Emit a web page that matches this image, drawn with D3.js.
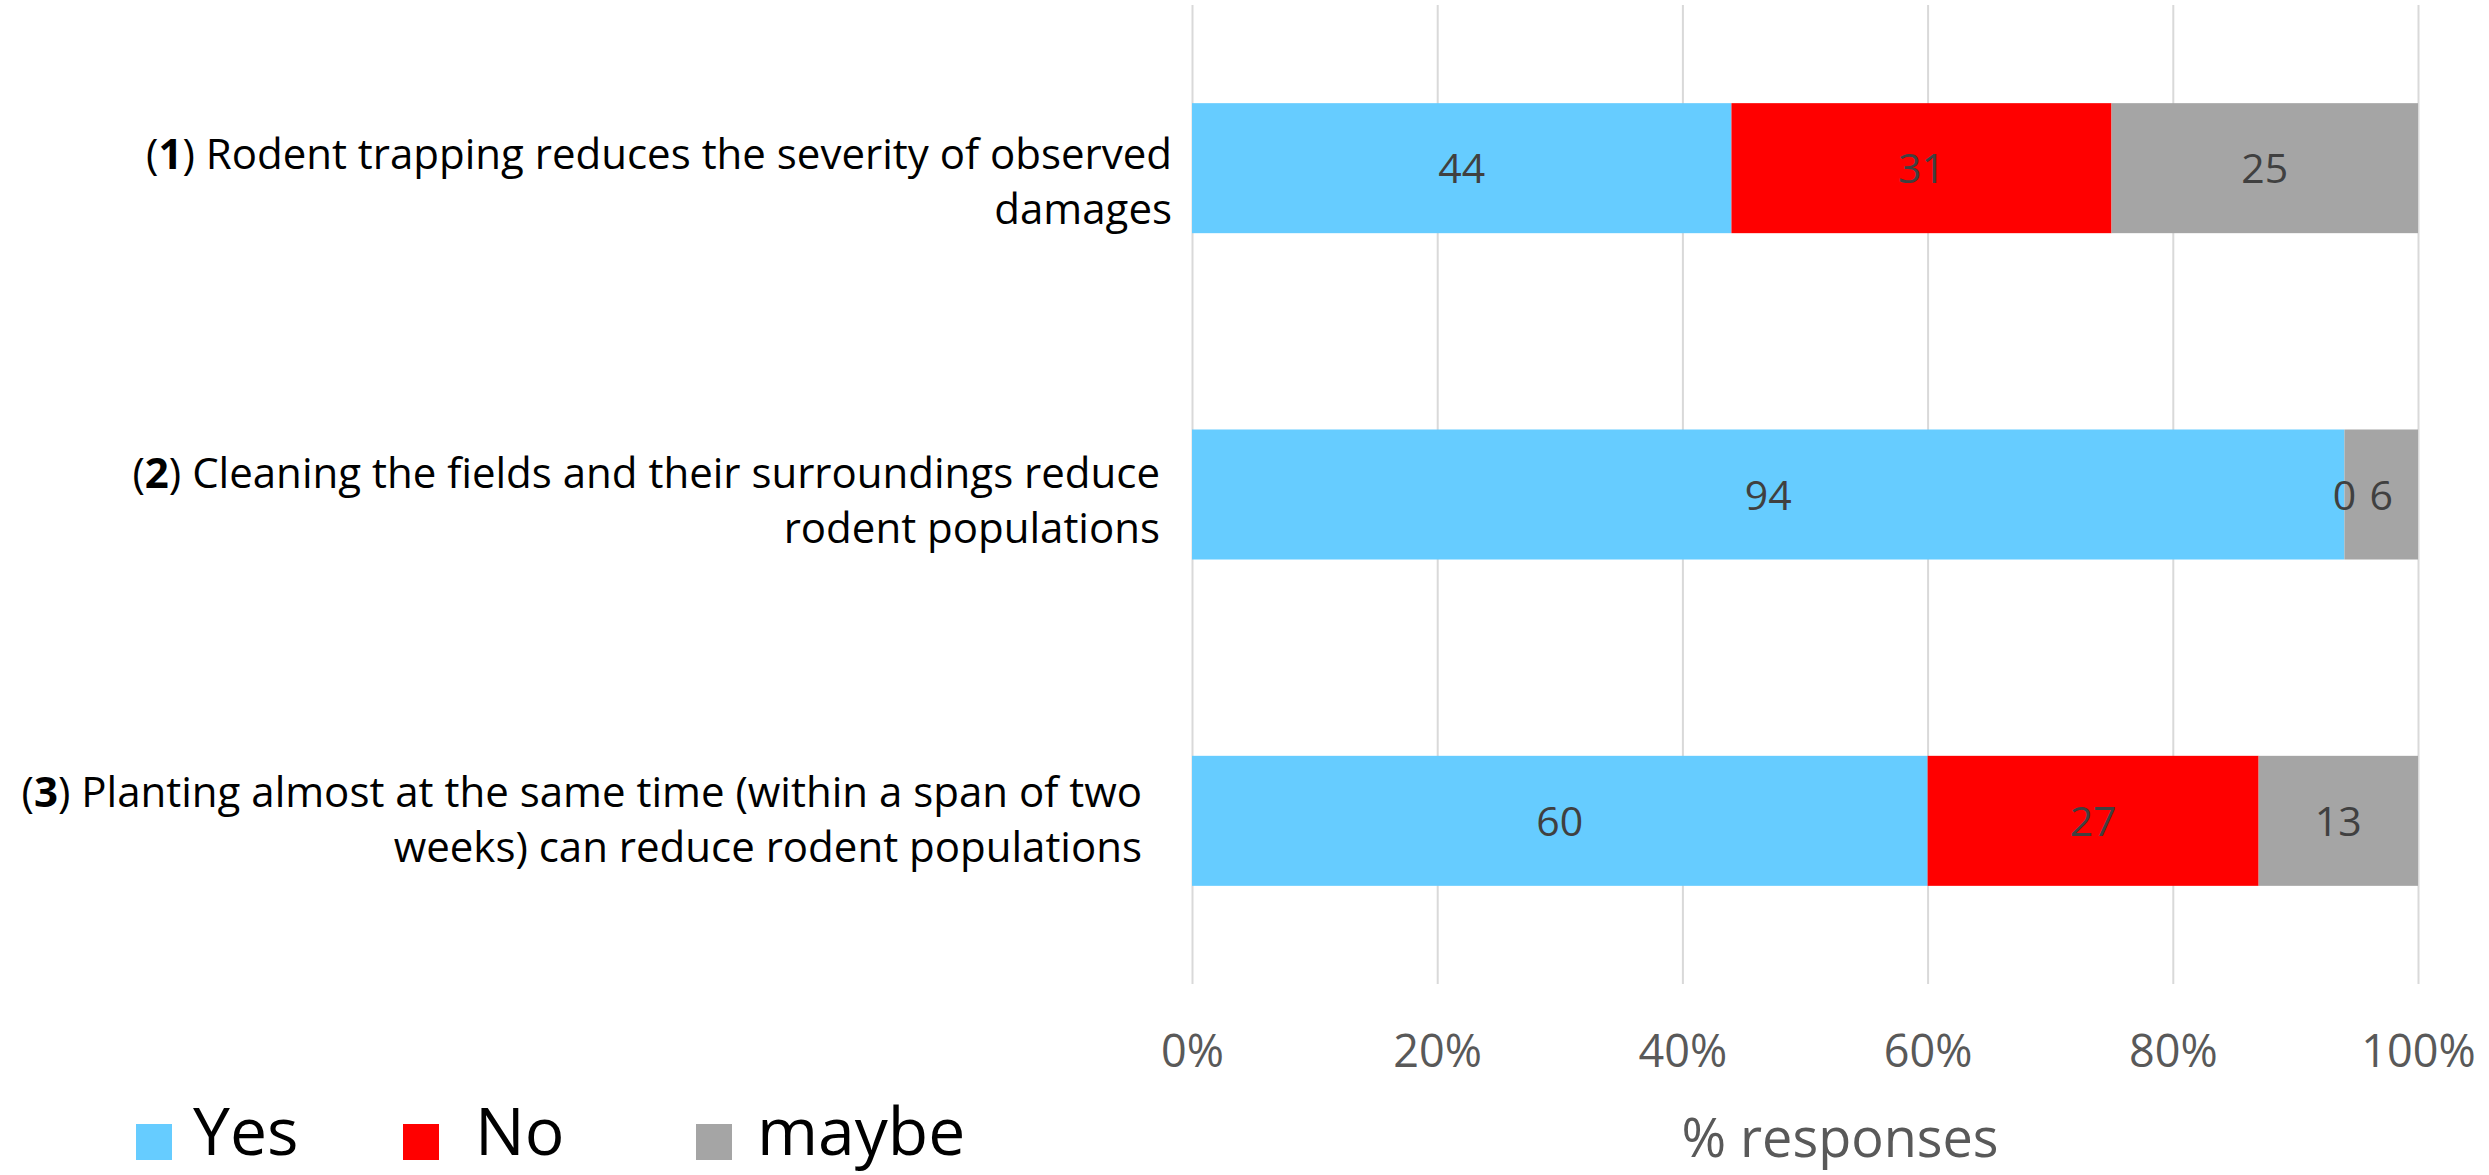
<!DOCTYPE html>
<html>
<head>
<meta charset="utf-8">
<script src="https://cdn.jsdelivr.net/npm/d3@7"></script>
<style>
  html, body { margin: 0; padding: 0; background: #ffffff; }
  svg { display: block; }
  text { font-family: "Open Sans", "Liberation Sans", sans-serif; }
</style>
</head>
<body>
<svg id="chart" width="2489" height="1175"></svg>
<script>
// Statements (number shown in bold, then the wrapped text lines)
const statementNumbers = ["1", "2", "3"];
const statementFirstLines = [
  " Rodent trapping reduces the severity of observed",
  " Cleaning the fields and their surroundings reduce",
  " Planting almost at the same time (within a span of two"
];
const statementSecondLines = [
  "damages",
  "rodent populations",
  "weeks) can reduce rodent populations"
];

// Share of responses (%) per statement
const seriesNames = ["Yes", "No", "maybe"];
const yesValues = [44, 94, 60];
const noValues = [31, 0, 27];
const maybeValues = [25, 6, 13];

// Value axis
const tickValues = [0, 20, 40, 60, 80, 100];
const tickLabels = ["0%", "20%", "40%", "60%", "80%", "100%"];
const axisTitle = "% responses";

// ---- layout & style ----
const colors = { "Yes": "#66CCFF", "No": "#FF0000", "maybe": "#A5A5A5" };
const plot = { left: 1192, right: 2418, top: 5, bottom: 984 };
const labelRightEdge = [1172, 1160, 1142];   // right end of each wrapped label
const labelFirstBaseline = [1, -7, -14];      // first-line baseline relative to bar centre
const labelLineGap = 55;
const legendItems = [
  { swatch: 136, text: 193 },
  { swatch: 403, text: 475 },
  { swatch: 696, text: 757 }
];

const svg = d3.select("#chart");

const rows = statementNumbers.map((n, i) => ({
  key: n,
  Yes: yesValues[i],
  No: noValues[i],
  maybe: maybeValues[i]
}));

const x = d3.scaleLinear().domain([0, 100]).range([plot.left, plot.right]);
const y = d3.scaleBand()
  .domain(statementNumbers)
  .range([plot.top, plot.bottom])
  .paddingInner(0.6016)
  .paddingOuter(0.3008);

// Vertical gridlines and percentage tick labels
const axis = d3.axisBottom(x)
  .tickValues(tickValues)
  .tickFormat((d, i) => tickLabels[i])
  .tickSizeInner(-(plot.bottom - plot.top))
  .tickSizeOuter(0);

const axisG = svg.append("g")
  .attr("transform", `translate(0,${plot.bottom})`)
  .call(axis);
axisG.select(".domain").remove();
axisG.selectAll(".tick line")
  .attr("stroke", "#d9d9d9")
  .attr("stroke-width", 2);
axisG.selectAll(".tick text")
  .attr("y", 83)
  .attr("dy", null)
  .attr("fill", "#595959")
  .style("font-size", "45px")
  .style("font-family", "'Open Sans', sans-serif");

// Stacked bars
const stacked = d3.stack().keys(seriesNames)(rows);

const layers = svg.append("g").selectAll("g")
  .data(stacked)
  .join("g")
  .attr("fill", d => colors[d.key]);

layers.selectAll("rect")
  .data(d => d.map(s => ({ s, key: d.key })))
  .join("rect")
  .attr("x", d => x(d.s[0]))
  .attr("y", d => y(d.s.data.key))
  .attr("width", d => x(d.s[1]) - x(d.s[0]))
  .attr("height", y.bandwidth());

// Value labels centred in each segment
const labelG = svg.append("g");
stacked.forEach(layer => {
  layer.forEach(s => {
    labelG.append("text")
      .attr("x", x((s[0] + s[1]) / 2))
      .attr("y", y(s.data.key) + y.bandwidth() / 2 + 15)
      .attr("text-anchor", "middle")
      .attr("fill", "#404040")
      .style("font-size", "41px")
      .text(s[1] - s[0]);
  });
});

// Statement labels, right aligned, two lines each
statementNumbers.forEach((n, i) => {
  const cy = y(n) + y.bandwidth() / 2;
  const t = svg.append("text")
    .attr("text-anchor", "end")
    .attr("fill", "#000000")
    .style("font-size", "42px");
  const l1 = t.append("tspan")
    .attr("x", labelRightEdge[i])
    .attr("y", cy + labelFirstBaseline[i]);
  l1.append("tspan").text("(");
  l1.append("tspan").attr("font-weight", 700).text(n);
  l1.append("tspan").text(")" + statementFirstLines[i]);
  svg.append("text")
    .attr("text-anchor", "end")
    .attr("fill", "#000000")
    .style("font-size", "42px")
    .attr("x", labelRightEdge[i])
    .attr("y", cy + labelFirstBaseline[i] + labelLineGap)
    .text(statementSecondLines[i]);
});

// Axis title
svg.append("text")
  .attr("x", 1840)
  .attr("y", 1157)
  .attr("text-anchor", "middle")
  .attr("fill", "#595959")
  .style("font-size", "54px")
  .text(axisTitle);

// Legend
const legend = svg.append("g");
seriesNames.forEach((name, i) => {
  legend.append("rect")
    .attr("x", legendItems[i].swatch)
    .attr("y", 1124)
    .attr("width", 36)
    .attr("height", 36)
    .attr("fill", colors[name]);
  legend.append("text")
    .attr("x", legendItems[i].text)
    .attr("y", 1155)
    .attr("fill", "#000000")
    .style("font-size", "66px")
    .text(name);
});
</script>
</body>
</html>
